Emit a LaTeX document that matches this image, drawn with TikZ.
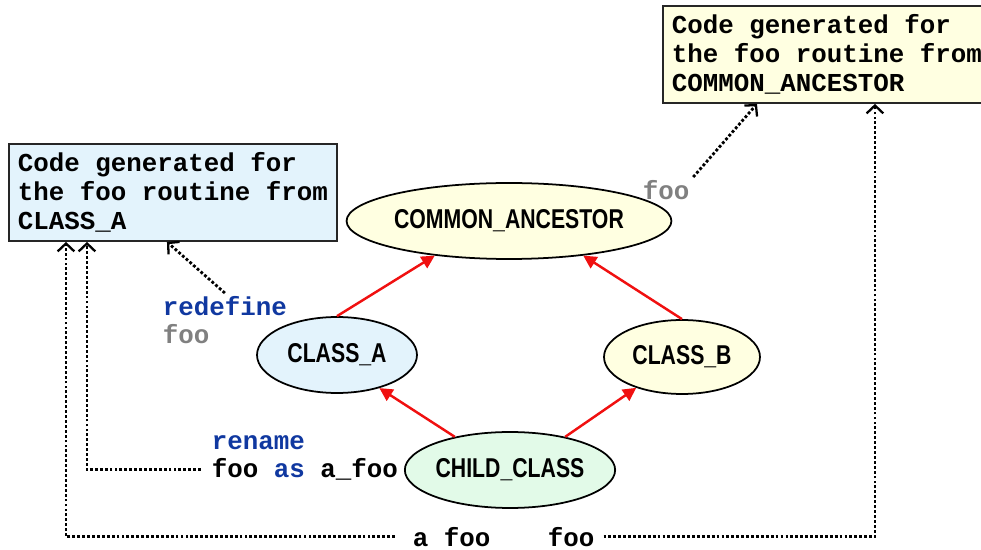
\documentclass[tikz,border=0pt]{standalone}
\usepackage{fontspec}
\setmonofont{Liberation Mono}
\newfontfamily\ellfont[FakeStretch=0.78]{Liberation Sans}
\usetikzlibrary{shapes.geometric,arrows.meta}
\definecolor{boxblue}{RGB}{227,243,252}
\definecolor{boxyellow}{RGB}{255,255,225}
\definecolor{boxgreen}{RGB}{226,250,232}
\definecolor{kwblue}{RGB}{16,56,160}
\definecolor{idgray}{RGB}{128,128,128}
\definecolor{inhred}{RGB}{240,16,16}

\begin{document}
\begin{tikzpicture}[x=0.02cm,y=-0.02cm,
    codebox/.style={draw=black!85,line width=1.1pt,anchor=north west,align=left,
      minimum width=6.56cm,minimum height=1.94cm,
      font=\fontsize{14.7}{16.4}\selectfont\ttfamily\bfseries},
    cls/.style={ellipse,draw,line width=1pt,inner sep=0pt,minimum height=1.52cm,
      font=\fontsize{15.5}{18}\selectfont\ellfont\bfseries},
    code/.style={inner sep=2pt,anchor=base west,
      font=\fontsize{14.7}{16.4}\selectfont\ttfamily\bfseries},
    inherit/.style={inhred,line width=1.4pt,-{Triangle[length=7.5pt,width=7.5pt]}},
    route/.style={line width=1.6pt,dash pattern=on 1.6pt off 1.2pt,
      -{Straight Barb[length=4.5pt,width=9.5pt,line width=1.3pt]}}]
    \useasboundingbox (0,0) rectangle (981,550);

    % generated code
    \node[codebox,fill=boxblue] (codea) at (8,143)
      {Code generated for\\the foo routine from\\CLASS\_A};
    \node[codebox,fill=boxyellow] (codeanc) at (662,5)
      {Code generated for\\the foo routine from\\COMMON\_ANCESTOR};

    % classes
    \node[cls,fill=boxyellow,minimum width=5.48cm] (common) at (509,221) {COMMON\_ANCESTOR};
    \node[cls,fill=boxblue,minimum width=3.2cm] (classa) at (337,355) {CLASS\_A};
    \node[cls,fill=boxyellow,minimum width=3.12cm,minimum height=1.48cm] (classb) at (682,357) {CLASS\_B};
    \node[cls,fill=boxgreen,minimum width=4cm] (child) at (510,470) {CHILD\_CLASS};

    \draw[inherit] (classa.north) -- (common.205);
    \draw[inherit] (classb.north) -- (common.335);
    \draw[inherit] (child.149) -- (classa.322);
    \draw[inherit] (child.31) -- (classb.214);

    % feature clauses
    \node[code,text=kwblue] (redef) at (159,316) {redefine};
    \node[code,text=idgray] (redeffoo) at (159,344) {foo};
    \node[code,text=idgray] (foocanc) at (639,200) {foo};
    \node[code,text=kwblue] (renkw) at (208,450) {rename};
    \node[code] (renas) at (208,478) {foo \textcolor{kwblue}{as} a\_foo};
    \node[code] (afoo) at (409,546) {a foo};
    \node[code] (bfoo) at (544,546) {foo};

    \draw[route] (redef.north) -- ([xshift=3.18cm]codea.south west);
    \draw[route] (foocanc.north east) -- ([xshift=1.9cm]codeanc.south west);
    \draw[route,shorten <=4pt] (renas.west) -| ([xshift=1.58cm]codea.south west);
    \draw[route,shorten <=8pt] (afoo.west) -| ([xshift=1.16cm]codea.south west);
    \draw[route,shorten <=3pt] (bfoo.east) -| ([xshift=4.26cm]codeanc.south west);
\end{tikzpicture}
\end{document}
